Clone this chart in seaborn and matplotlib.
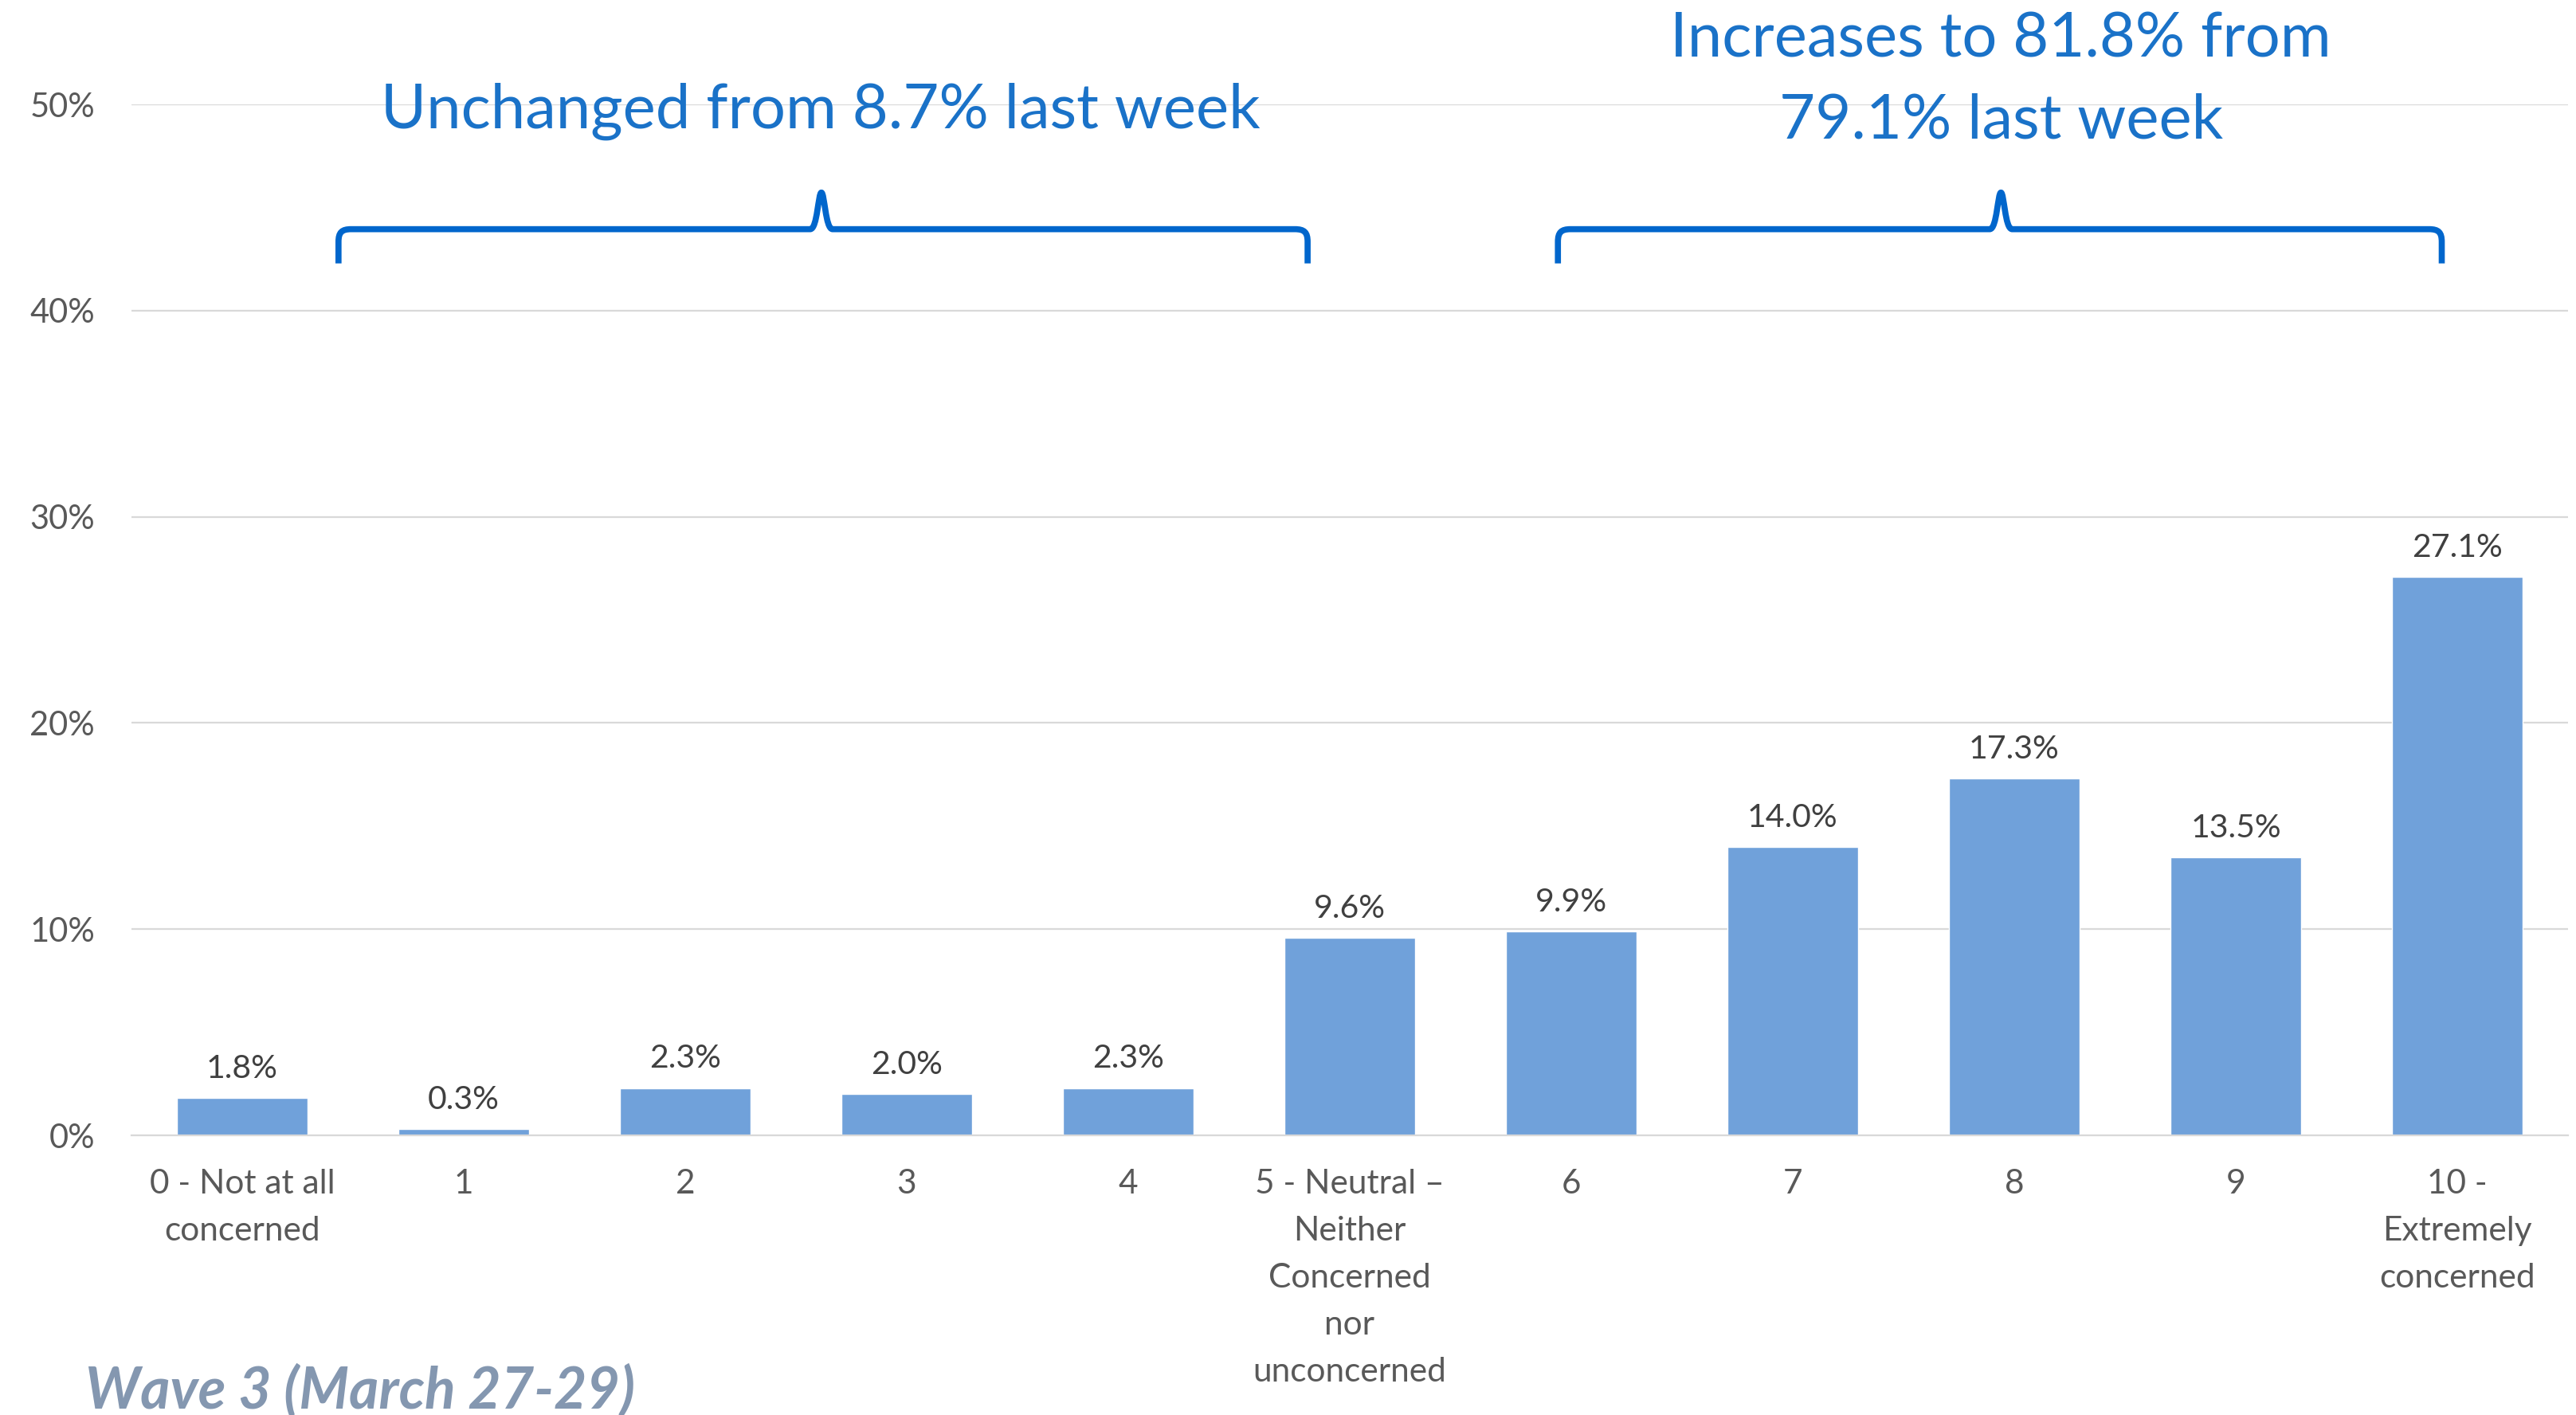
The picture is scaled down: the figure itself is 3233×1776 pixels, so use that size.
import numpy as np
import pandas as pd
import seaborn as sns
import matplotlib
matplotlib.use("Agg")
import matplotlib.pyplot as plt
from matplotlib.path import Path
from matplotlib.patches import PathPatch

# Survey responses: level of concern (0-10 scale)
categories = [
    "0 - Not at all\nconcerned", "1", "2", "3", "4",
    "5 - Neutral \u2013\nNeither\nConcerned\nnor\nunconcerned",
    "6", "7", "8", "9", "10 -\nExtremely\nconcerned",
]
shares = [1.8, 0.3, 2.3, 2.0, 2.3, 9.6, 9.9, 14.0, 17.3, 13.5, 27.1]
y_ticks = [0, 10, 20, 30, 40, 50]
y_tick_labels = ["0%", "10%", "20%", "30%", "40%", "50%"]

note_low = "Unchanged from 8.7% last week"
note_high = "Increases to 81.8% from\n79.1% last week"
wave_label = "Wave 3 (March 27-29)"

sns.set_theme(style="white")
plt.rcParams["font.family"] = ["Lato", "DejaVu Sans"]

BAR = "#70A1DA"
BRACE = "#0066CC"
NOTE = "#1A72C8"

fig = plt.figure(figsize=(32.33, 17.76), dpi=100)
ax = fig.add_axes([0.051, 0.1976, 0.9459, 0.7286])

df = pd.DataFrame({"category": categories, "share": shares})
sns.barplot(data=df, x="category", y="share", color=BAR, saturation=1,
            width=0.59, ax=ax)

ax.set_xlim(-0.5, len(categories) - 0.5)
ax.set_ylim(0, 50)
ax.set_yticks(y_ticks)
ax.set_yticklabels(y_tick_labels)
ax.set_xlabel("")
ax.set_ylabel("")
ax.yaxis.grid(True, color="#D9D9D9", linewidth=1.6)
ax.set_axisbelow(True)
for side in ["top", "left", "right"]:
    ax.spines[side].set_visible(False)
ax.spines["bottom"].set_color("#D9D9D9")
ax.spines["bottom"].set_linewidth(1.6)
ax.tick_params(axis="y", length=0, pad=33, labelsize=30, labelcolor="#595959")
ax.tick_params(axis="x", length=0, pad=30, labelsize=30.5, labelcolor="#595959")
for lbl in ax.get_xticklabels():
    lbl.set_linespacing(1.68)

# value labels above each bar
for i, v in enumerate(shares):
    ax.annotate(f"{v:.1f}%", (i, v), xytext=(0, 13), textcoords="offset points",
                ha="center", va="bottom", fontsize=29.5, color="#404040")

# curly braces grouping the low and high ends of the scale
px_x = 278.0   # pixels per category
px_y = 25.9    # pixels per percentage point


def brace(x0, x1, xc, y):
    def p(x, dxp, dyp):
        return (x + dxp / px_x, y + dyp / px_y)
    verts = [
        p(x0, 0, -43), p(x0, 0, -16),
        p(x0, 0, -4), p(x0, 4, 0), p(x0, 16, 0),
        p(xc, -14, 0),
        p(xc, -5, 0), p(xc, -4, 46), p(xc, 0, 46),
        p(xc, 4, 46), p(xc, 5, 0), p(xc, 14, 0),
        p(x1, -16, 0),
        p(x1, -4, 0), p(x1, 0, -4), p(x1, 0, -16),
        p(x1, 0, -43),
    ]
    codes = [Path.MOVETO, Path.LINETO,
             Path.CURVE4, Path.CURVE4, Path.CURVE4,
             Path.LINETO,
             Path.CURVE4, Path.CURVE4, Path.CURVE4,
             Path.CURVE4, Path.CURVE4, Path.CURVE4,
             Path.LINETO,
             Path.CURVE4, Path.CURVE4, Path.CURVE4,
             Path.LINETO]
    patch = PathPatch(Path(verts, codes), facecolor="none", edgecolor=BRACE,
                      linewidth=5.5, capstyle="butt", joinstyle="round",
                      clip_on=False)
    ax.add_patch(patch)


brace(0.435, 4.81, 2.615, 43.95)
brace(5.94, 9.93, 7.94, 43.95)

ax.text(2.61, 49.65, note_low, ha="center", va="center", fontsize=56,
        color=NOTE, clip_on=False)
ax.text(7.94, 51.15, note_high, ha="center", va="center", fontsize=56,
        color=NOTE, linespacing=1.54, clip_on=False)

fig.text(107 / 3233, 1 - 1746 / 1776, wave_label, ha="left", va="center",
         fontsize=51.5, fontweight="bold", fontstyle="italic", color="#8497B0")

fig.savefig("out.png", dpi=100)
